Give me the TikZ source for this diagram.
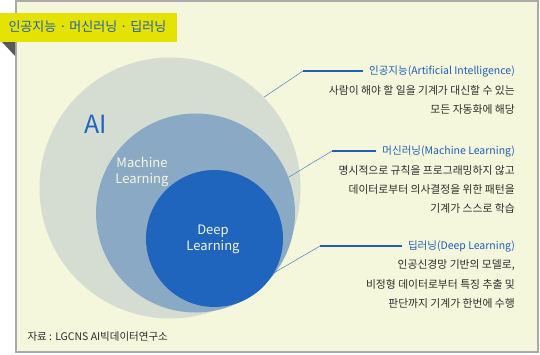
\documentclass[tikz,border=0pt]{standalone}
\usepackage{fontspec}
\setmainfont{Noto Sans CJK KR}
\usetikzlibrary{positioning}
\definecolor{panelcolor}{RGB}{245, 247, 220}
\definecolor{framecolor}{RGB}{170, 170, 170}
\definecolor{bannercolor}{RGB}{228, 226, 0}
\definecolor{aicolor}{RGB}{213, 221, 211}
\definecolor{mlcolor}{RGB}{138, 169, 196}
\definecolor{dlcolor}{RGB}{31, 101, 189}
\definecolor{titlecolor}{RGB}{30, 96, 180}
\definecolor{textcolor}{RGB}{45, 45, 45}

\begin{document}
\begin{tikzpicture}[x=1pt, y=-1pt,
    ring/.style={circle, inner sep=0pt},
    ringlabel/.style={font=\fontsize{13}{16}\selectfont, align=center, text=panelcolor},
    heading/.style={font=\fontsize{10.5}{13}\selectfont, text=titlecolor, inner sep=0pt, anchor=east},
    bodytxt/.style={font=\fontsize{10.8}{19.3}\selectfont, text=textcolor, align=right, inner sep=0pt},
    slant/.style={draw=titlecolor!80, line width=0.5pt},
    flat/.style={draw=titlecolor, line width=1.3pt}]
  \useasboundingbox (0,0) rectangle (540,355);
  % panel and banner
  \fill[white] (0,0) rectangle (540,355);
  \draw[fill=panelcolor, draw=framecolor, line width=2pt] (16,1) rectangle (538,352);
  \fill[black!65] (2,42) -- (15,42) -- (15,56) -- cycle;
  \node[fill=bannercolor, minimum width=177pt, minimum height=29pt, anchor=north west,
        inner sep=0pt] (banner) at (0,13) {};
  \node[font=\fontsize{13}{15}\selectfont, text=titlecolor, anchor=west] (bannertxt)
        at (5,27) {인공지능 · 머신러닝 · 딥러닝};
  % circles
  \node[ring, fill=aicolor, minimum size=261pt] (ai) at (170,188) {};
  \node[ring, fill=mlcolor, minimum size=199pt] (ml) at (195.5,213) {};
  \node[ring, fill=dlcolor, minimum size=137pt] (dl) at (214.5,238.5) {};
  \node[font=\fontsize{25}{28}\selectfont, text=dlcolor] (ailbl) at (96,124) {AI};
  \node[ringlabel] (mllbl) at (142,172) {Machine\\Learning};
  \node[ringlabel] (dllbl) at (213,239) {Deep\\Learning};
  % descriptions
  \node[heading] (aititle) at (515,71) {인공지능(Artificial Intelligence)};
  \node[bodytxt, below left=8pt and 0pt of aititle.south east] (aibody)
        {사람이 해야 할 일을 기계가 대신할 수 있는\\모든 자동화에 해당};
  \node[heading] (mltitle) at (515,151) {머신러닝(Machine Learning)};
  \node[bodytxt, below left=8pt and 0pt of mltitle.south east] (mlbody)
        {명시적으로 규칙을 프로그래밍하지 않고\\데이터로부터 의사결정을 위한 패턴을\\기계가 스스로 학습};
  \node[heading] (dltitle) at (515,246) {딥러닝(Deep Learning)};
  \node[bodytxt, below left=8pt and 0pt of dltitle.south east] (dlbody)
        {인공신경망 기반의 모델로,\\비정형 데이터로부터 특징 추출 및\\판단까지 기계가 한번에 수행};
  % connectors
  \coordinate (aibend) at (303,71);
  \coordinate (mlbend) at (332,151);
  \coordinate (dlbend) at (320,246);
  \draw[slant] (ai.44) -- (aibend);
  \draw[flat] (aibend) -- ([xshift=-6pt]aititle.west);
  \draw[slant] (ml.21) -- (mlbend);
  \draw[flat] (mlbend) -- ([xshift=-6pt]mltitle.west);
  \draw[slant] (dl.-30) -- (dlbend);
  \draw[flat] (dlbend) -- ([xshift=-6pt]dltitle.west);
  % source
  \node[font=\fontsize{10.5}{12}\selectfont, text=textcolor, anchor=west] (source)
        at (24,337) {자료 : LGCNS AI빅데이터연구소};
\end{tikzpicture}
\end{document}
